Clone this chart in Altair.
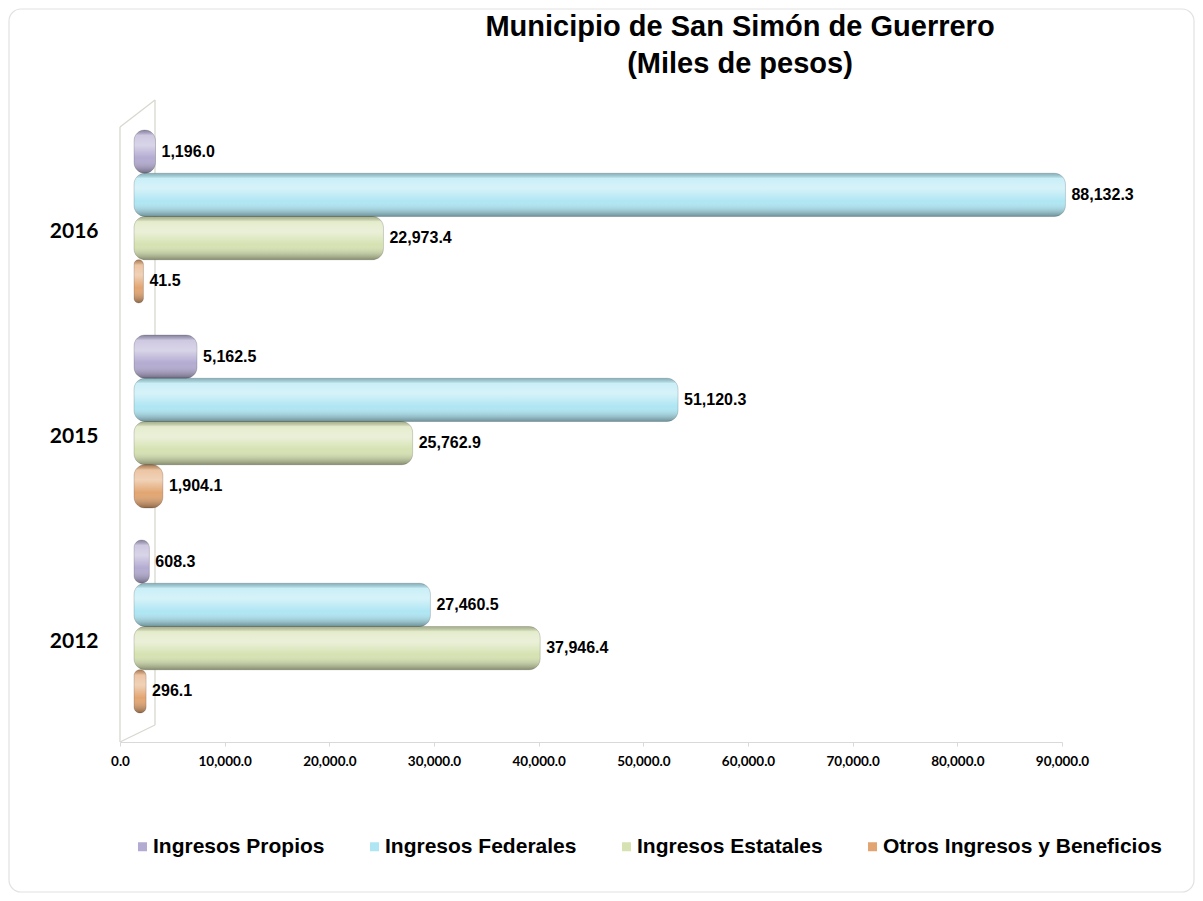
import altair as alt
import pandas as pd

years = ["2016", "2015", "2012"]
series = ["Ingresos Propios", "Ingresos Federales", "Ingresos Estatales", "Otros Ingresos y Beneficios"]
propios = [1196.0, 5162.5, 608.3]
federales = [88132.3, 51120.3, 27460.5]
estatales = [22973.4, 25762.9, 37946.4]
otros = [41.5, 1904.1, 296.1]
colors = ["#b3abd1", "#aee6f3", "#d6e2b2", "#e2a571"]
x_ticks = [0, 10000, 20000, 30000, 40000, 50000, 60000, 70000, 80000, 90000]

rows = []
for s, vals in zip(series, [propios, federales, estatales, otros]):
    for y, v in zip(years, vals):
        rows.append({"Año": y, "Serie": s, "Valor": v, "cero": 0.0})
df = pd.DataFrame(rows)

FONT = "Liberation Sans"

y_enc = alt.Y("Año:N", sort=years,
              scale=alt.Scale(paddingInner=0.156, paddingOuter=0.078),
              axis=alt.Axis(title=None, ticks=False, domain=False, labelFont="Lato",
                            labelFontWeight="bold", labelFontSize=21, labelColor="black",
                            labelPadding=22, labelOffset=15))
yoff_enc = alt.YOffset("Serie:N", sort=series, scale=alt.Scale(paddingInner=0.0, paddingOuter=0.0))
x_enc = alt.X("cero:Q", scale=alt.Scale(domain=[0, 90000], nice=False),
              axis=alt.Axis(title=None, values=x_ticks, format=",.1f", grid=False,
                            labelFont="Lato", labelFontWeight="bold", labelFontSize=13.5,
                            labelColor="black", domainColor="#d9d9d9", tickColor="#d9d9d9",
                            tickSize=4, labelPadding=8, offset=13, labelFlush=False,
                            labelOverlap=False))

base = alt.Chart(df)

bars = base.mark_bar(xOffset=14, x2Offset=23, cornerRadius=11).encode(
    y=y_enc, yOffset=yoff_enc, x=x_enc, x2="Valor:Q",
    color=alt.Color("Serie:N", sort=series,
                    scale=alt.Scale(domain=series, range=colors),
                    legend=alt.Legend(title=None, orient="none", legendX=12, legendY=722,
                                      direction="horizontal", columns=4, columnPadding=39,
                                      padding=0,
                                      symbolType="square", symbolSize=81, symbolStrokeWidth=0,
                                      labelFont=FONT, labelFontWeight="bold", labelFontSize=21,
                                      labelColor="black", labelOffset=0, labelLimit=0)),
)

shade = alt.LinearGradient(
    gradient="linear", x1=0, y1=0, x2=0, y2=1,
    stops=[
        alt.GradientStop(color="rgba(0,0,0,0.22)", offset=0),
        alt.GradientStop(color="rgba(255,255,255,0.35)", offset=0.12),
        alt.GradientStop(color="rgba(255,255,255,0.5)", offset=0.35),
        alt.GradientStop(color="rgba(255,255,255,0.0)", offset=0.65),
        alt.GradientStop(color="rgba(0,0,0,0.38)", offset=1),
    ],
)
overlay = base.mark_bar(xOffset=14, x2Offset=23, cornerRadius=11, fill=shade,
                        stroke="rgba(0,0,0,0.2)", strokeWidth=0.8).encode(
    y=alt.Y("Año:N", sort=years), yOffset=alt.YOffset("Serie:N", sort=series),
    x="cero:Q", x2="Valor:Q",
)

labels = base.mark_text(align="left", baseline="middle", dx=29, font=FONT,
                        fontWeight="bold", fontSize=16, color="black").encode(
    y=alt.Y("Año:N", sort=years), yOffset=alt.YOffset("Serie:N", sort=series),
    x=alt.X("Valor:Q"), text=alt.Text("Valor:Q", format=",.1f"),
)

wall_color = "#d8d8d0"
one = pd.DataFrame({"k": [0]})
def seg(x1, y1, x2, y2):
    return alt.Chart(one).mark_rule(color=wall_color, strokeWidth=1.3).encode(
        x=alt.value(x1), y=alt.value(y1), x2=alt.value(x2), y2=alt.value(y2))

walls = [seg(0, 13, 0, 628), seg(0, 13, 35, -14), seg(35, -14, 35, 611), seg(0, 628, 35, 611)]

frame = alt.Chart(one).mark_rect(fill="transparent", stroke="#e2e2e2", strokeWidth=1.2,
                                 cornerRadius=12).encode(
    x=alt.value(-111), x2=alt.value(1074), y=alt.value(-105), y2=alt.value(778))

chart = alt.layer(frame, *walls, bars, overlay, labels).properties(
    width=942, height=615,
    title=alt.TitleParams(text=["Municipio de San Simón de Guerrero", "(Miles de pesos)"],
                          font=FONT, fontSize=29, fontWeight="bold", lineHeight=37,
                          anchor="middle", dx=149, dy=75, color="black"),
    autosize=alt.AutoSizeParams(type="none"),
    padding={"left": 112, "top": 106, "right": 133, "bottom": 164},
).configure_view(stroke=None)

chart.save("out.html", embed_options={"renderer": "svg", "actions": False})
